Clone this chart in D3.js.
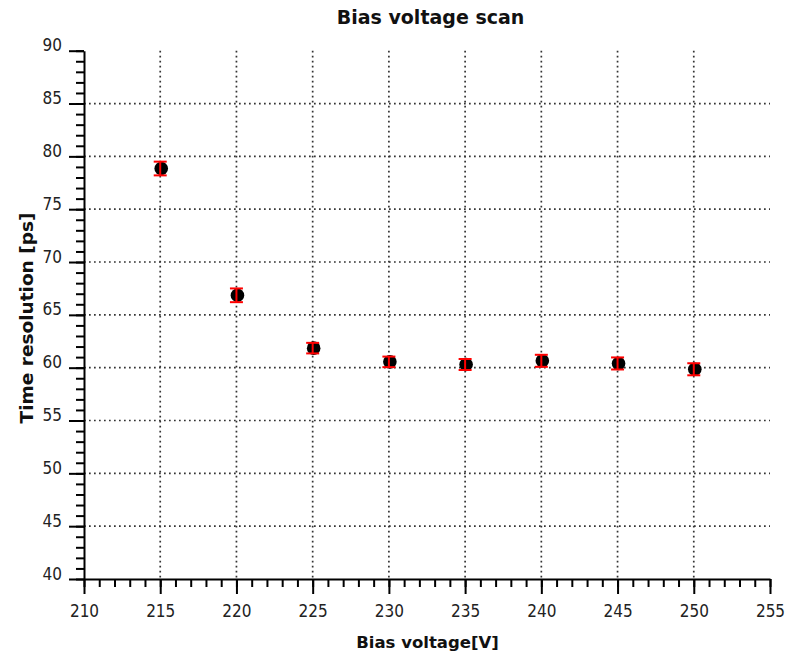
<!DOCTYPE html>
<html>
<head>
<meta charset="utf-8">
<script src="https://cdn.jsdelivr.net/npm/d3@7"></script>
<style>
  body { margin: 0; background: #fff; }
  text { font-family: "DejaVu Sans", Verdana, sans-serif; }
</style>
</head>
<body>
<div id="chart"></div>
<script>
// data
var voltages = [215, 220, 225, 230, 235, 240, 245, 250];
var resolutions = [78.85, 66.85, 61.85, 60.55, 60.3, 60.65, 60.4, 59.85];
var errors = [0.65, 0.65, 0.5, 0.5, 0.52, 0.57, 0.57, 0.57];
var xTicks = [210, 215, 220, 225, 230, 235, 240, 245, 250, 255];
var yTicks = [40, 45, 50, 55, 60, 65, 70, 75, 80, 85, 90];

var W = 793, H = 654;
var margin = {top: 50.7, right: 23, bottom: 75, left: 84};
var width = W - margin.left - margin.right,
    height = H - margin.top - margin.bottom;

var svg = d3.select("#chart").append("svg")
  .attr("width", W).attr("height", H)
  .append("g")
  .attr("transform", "translate(" + margin.left + "," + margin.top + ")");

var x = d3.scaleLinear().domain([210, 255]).range([0, width]);
var y = d3.scaleLinear().domain([40, 90]).range([height, 0]);

var tickFont = '"DejaVu Sans Condensed", "DejaVu Sans", sans-serif';

// title
svg.append("text")
  .attr("x", 430.5 - margin.left)
  .attr("y", 24 - margin.top)
  .attr("text-anchor", "middle")
  .style("font-size", "19px")
  .style("font-weight", "bold")
  .style("fill", "#111")
  .text("Bias voltage scan");

// dotted grid
svg.append("g").selectAll("line")
  .data(yTicks.filter(function(d) { return d > 40 && d < 90; }))
  .enter().append("line")
  .attr("x1", 0).attr("x2", width)
  .attr("y1", function(d) { return y(d); })
  .attr("y2", function(d) { return y(d); })
  .style("stroke", "#333")
  .style("stroke-width", 1.7)
  .style("stroke-dasharray", "1.7,3.3");

svg.append("g").selectAll("line")
  .data(xTicks.filter(function(d) { return d > 210 && d < 255; }))
  .enter().append("line")
  .attr("x1", function(d) { return x(d); })
  .attr("x2", function(d) { return x(d); })
  .attr("y1", 0).attr("y2", height)
  .style("stroke", "#333")
  .style("stroke-width", 1.7)
  .style("stroke-dasharray", "1.7,3.3");

// minor ticks
svg.append("g")
  .attr("transform", "translate(0," + height + ")")
  .call(d3.axisBottom(x).ticks(45).tickSize(8).tickFormat(""))
  .call(function(g) { g.select(".domain").remove(); })
  .selectAll("line").style("stroke-width", 2);

svg.append("g")
  .call(d3.axisLeft(y).ticks(50).tickSize(8).tickFormat(""))
  .call(function(g) { g.select(".domain").remove(); })
  .selectAll("line").style("stroke-width", 2);

// major ticks + labels
var xAxis = svg.append("g")
  .attr("transform", "translate(0," + height + ")")
  .call(d3.axisBottom(x).tickValues(xTicks).tickSize(15).tickSizeOuter(0).tickPadding(11));
xAxis.select(".domain").style("stroke-width", 2);
xAxis.selectAll("line").style("stroke-width", 2);
xAxis.selectAll("text").style("font-family", tickFont).style("font-size", "17px").style("fill", "#222");

var yAxis = svg.append("g")
  .call(d3.axisLeft(y).tickValues(yTicks).tickSize(15).tickSizeOuter(0).tickPadding(7));
yAxis.select(".domain").style("stroke-width", 2);
yAxis.selectAll("line").style("stroke-width", 2);
yAxis.selectAll("text").style("font-family", tickFont).style("font-size", "17px").style("fill", "#222").attr("dy", "0");

// axis titles
svg.append("text")
  .attr("x", 427.5 - margin.left)
  .attr("y", height + 69)
  .attr("text-anchor", "middle")
  .style("font-size", "16.5px")
  .style("font-weight", "bold")
  .style("fill", "#111")
  .text("Bias voltage[V]");

svg.append("text")
  .attr("transform", "rotate(-90)")
  .attr("x", -(318 - margin.top))
  .attr("y", -51)
  .attr("text-anchor", "middle")
  .style("font-size", "18.5px")
  .style("font-weight", "bold")
  .style("fill", "#111")
  .text("Time resolution [ps]");

// points
var pts = voltages.map(function(v, i) {
  return {v: v, r: resolutions[i], e: errors[i]};
});

svg.selectAll("circle.pt")
  .data(pts).enter().append("circle")
  .attr("class", "pt")
  .attr("cx", function(d) { return x(d.v) + 1; })
  .attr("cy", function(d) { return y(d.r); })
  .attr("r", 6.8)
  .style("fill", "black");

var eb = svg.selectAll("g.err").data(pts).enter().append("g").attr("class", "err");
eb.append("line")
  .attr("x1", function(d) { return x(d.v); })
  .attr("x2", function(d) { return x(d.v); })
  .attr("y1", function(d) { return y(d.r + d.e); })
  .attr("y2", function(d) { return y(d.r - d.e); })
  .style("stroke", "red").style("stroke-width", 2);
eb.append("line")
  .attr("x1", function(d) { return x(d.v) - 6.5; })
  .attr("x2", function(d) { return x(d.v) + 6.5; })
  .attr("y1", function(d) { return y(d.r + d.e); })
  .attr("y2", function(d) { return y(d.r + d.e); })
  .style("stroke", "red").style("stroke-width", 2);
eb.append("line")
  .attr("x1", function(d) { return x(d.v) - 6.5; })
  .attr("x2", function(d) { return x(d.v) + 6.5; })
  .attr("y1", function(d) { return y(d.r - d.e); })
  .attr("y2", function(d) { return y(d.r - d.e); })
  .style("stroke", "red").style("stroke-width", 2);
</script>
</body>
</html>
